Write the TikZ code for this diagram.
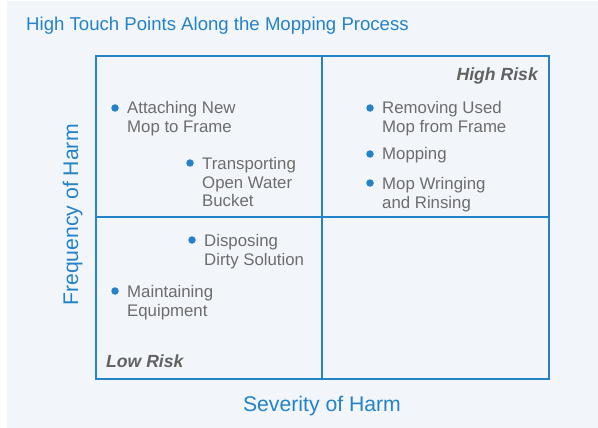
\documentclass[tikz,border=0pt]{standalone}
\usepackage{fontspec}
\setmainfont{Liberation Sans}
\usepackage{tikz}
\usetikzlibrary{positioning}
\definecolor{Harm-Blue}{RGB}{35,130,200}
\definecolor{Harm-Grey}{RGB}{108,108,108}
\definecolor{Harm-Back}{RGB}{242,246,251}

\begin{document}
\begin{tikzpicture}[x=1pt,y=-1pt]
    \path[use as bounding box] (0,0) rectangle (598,428);
    \fill[Harm-Back] (7,1) rectangle (598,428);

    \tikzset{ item/.style ={anchor=base west, inner sep=0pt, align=left, text=Harm-Grey, font=\fontsize{16.8}{19}\selectfont} }
    \tikzset{ dot/.style  ={circle, fill=Harm-Blue, inner sep=0pt, minimum size=7.5pt} }
    \tikzset{ risk/.style ={inner sep=0pt, text=Harm-Grey!90!black, font=\fontsize{17.6}{20}\selectfont\bfseries\itshape} }
    \tikzset{ axis/.style ={inner sep=0pt, text=Harm-Blue, font=\fontsize{21.2}{24}\selectfont} }

    % quadrants
    \draw[Harm-Blue, line width=2pt] (96,56) rectangle (549,379);
    \draw[Harm-Blue, line width=2pt] (322,56) -- (322,379);
    \draw[Harm-Blue, line width=2pt] (96,217) -- (549,217);

    \node[axis, anchor=base west, font=\fontsize{18.6}{22}\selectfont] (title) at (26,31) {High Touch Points Along the Mopping Process};
    \node[axis, anchor=base] (sev) at (322,411) {Severity of Harm};
    \node[axis, anchor=base, rotate=90] (freq) at (78,215) {Frequency of Harm};

    \node[risk, anchor=base east] (high) at (538,81) {High Risk};
    \node[risk, anchor=base west] (low) at (106,367) {Low Risk};

    % multi-line items: anchor sits on the last line
    \node[dot] (d1) at (115,108) {};
    \node[item] (t1) at (127,132) {Attaching New\\Mop to Frame};
    \node[dot] (d2) at (190,163) {};
    \node[item] (t2) at (202,207) {Transporting\\Open Water\\Bucket};
    \node[dot] (d3) at (370,108) {};
    \node[item] (t3) at (382,132) {Removing Used\\Mop from Frame};
    \node[dot] (d4) at (370,154) {};
    \node[item] (t4) at (382,160) {Mopping};
    \node[dot] (d5) at (370,183) {};
    \node[item] (t5) at (382,208) {Mop Wringing\\and Rinsing};
    \node[dot] (d6) at (192,240) {};
    \node[item] (t6) at (204,265) {Disposing\\Dirty Solution};
    \node[dot] (d7) at (115,291) {};
    \node[item] (t7) at (127,316) {Maintaining\\Equipment};

\end{tikzpicture}
\end{document}
